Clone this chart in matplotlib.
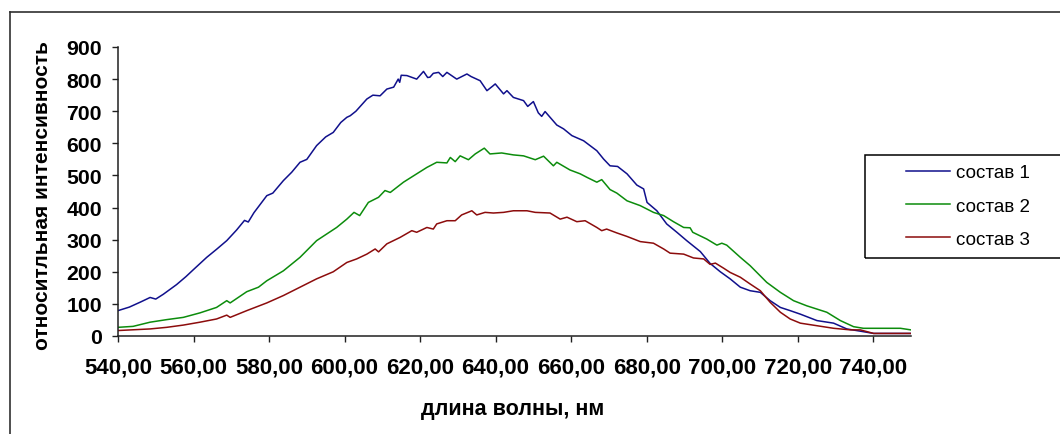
import matplotlib.pyplot as plt
from matplotlib.lines import Line2D
from matplotlib.patches import Rectangle

plt.rcParams['font.family'] = ['Liberation Sans', 'DejaVu Sans']

# spectra: wavelength (nm) and relative intensity for each composition
wl1 = [540, 543, 546, 548.5, 550, 552, 555.5, 558, 560, 563.5, 566.1, 568.8, 571.4,
       573.5, 574.5, 576, 579.4, 581, 583.8, 586, 588.2, 590, 592.6, 595, 597, 599,
       600.6, 601.5, 603, 605.9, 607.5, 609.4, 611.2, 613, 614.2, 614.6, 615, 616.5,
       619.1, 620.9, 622, 622.6, 623.5, 624.9, 626, 627.1, 629.7, 632.4, 633.5,
       635.9, 637.7, 639.2, 639.9, 642.1, 643, 644.7, 647.4, 648.5, 650, 651.3,
       652.2, 653.1, 656.2, 658, 660.2, 663.3, 666.8, 668.6, 670.3, 672.3, 674.8,
       677.4, 679.2, 680.1, 682.7, 685.3, 688, 690.6, 694.2, 696.8, 699.5, 702.1,
       704.8, 707.4, 710.1, 712.7, 715.4, 718, 720.7, 725.1, 729.5, 733, 736.6,
       740.1, 750]
int1 = [79, 90, 106, 120, 115, 130, 160, 185, 207, 245, 270, 297, 330,
        360, 355, 384, 437, 445, 484, 510, 541, 550, 593, 620, 634, 665,
        681, 686, 700, 738, 750, 748, 769, 775, 800, 790, 812, 811,
        800, 824, 805, 806, 818, 821, 808, 821, 800, 816, 808,
        795, 764, 778, 785, 754, 764, 743, 733, 715, 730, 695,
        684, 699, 657, 645, 624, 608, 577, 551, 530, 528, 505,
        470, 458, 416, 390, 349, 323, 297, 263, 226, 200, 178,
        152, 141, 136, 110, 89, 79, 68, 48, 40, 22, 15,
        8, 8]

wl2 = [540, 544, 548.5, 552.9, 557.3, 561.7, 566.1, 568.8, 569.7, 574.1, 577.2,
       579.4, 583.8, 588.2, 592.6, 597.9, 600.6, 602.5, 604, 606.3, 609, 610.7,
       612.1, 615.6, 619.1, 621.8, 624.4, 627.1, 628, 629.3, 630.6, 632.8, 634.6,
       637, 638.5, 641.6, 644.7, 647.4, 650.5, 652.7, 655.3, 656.2, 659.7, 662.4,
       664.2, 666.8, 668.1, 670.3, 672.1, 674.8, 678.3, 681.8, 684.5, 687.1, 689.8,
       691.5, 692.2, 695.9, 698.6, 699.9, 701.2, 704.8, 707.4, 711.8, 715.4, 718.9,
       722.4, 727.7, 731.3, 734.8, 737.4, 747.2, 750]
int2 = [27, 30, 43, 51, 58, 72, 89, 110, 103, 138, 152,
        172, 203, 245, 297, 338, 364, 385, 375, 416, 432, 453,
        447, 479, 505, 525, 541, 539, 556, 543, 561, 549, 567,
        585, 567, 570, 564, 561, 549, 560, 530, 541, 517, 505,
        494, 479, 487, 456, 445, 421, 406, 385, 375, 356, 338,
        337, 323, 302, 283, 289, 283, 245, 219, 167, 136, 110,
        94, 74, 48, 29, 24, 24, 19]

wl3 = [540, 548.5, 552.9, 557.3, 561.7, 566.1, 568.8, 569.7, 574.1, 579.4, 583.8,
       588.2, 592.6, 597, 600.6, 603.2, 605.9, 608.1, 609, 611.2, 614.7, 617.8,
       619.1, 621.8, 623.5, 624.4, 627.1, 629.3, 631, 633.7, 635, 637.2, 639.4,
       642.1, 644.7, 648.3, 650.5, 654.4, 657.1, 658.9, 661.5, 663.7, 666.8, 668.1,
       669.4, 672.1, 674.8, 678.3, 681.8, 684.5, 686.2, 689.8, 692.4, 695.1, 696.8,
       698.2, 700.4, 702.1, 704.8, 707.4, 710.1, 712.7, 715.4, 718, 720.7, 725.1,
       729.5, 734, 736.6, 740.1, 750]
int3 = [17, 22, 27, 34, 43, 53, 65, 58, 79, 103, 126,
        152, 178, 200, 229, 240, 255, 271, 262, 287, 307, 328,
        323, 338, 333, 349, 359, 359, 377, 390, 377, 385, 383,
        385, 390, 390, 385, 383, 364, 370, 356, 359, 338, 328,
        333, 321, 310, 294, 289, 271, 258, 255, 243, 240, 223,
        227, 211, 198, 183, 162, 141, 105, 74, 53, 40, 32,
        24, 19, 19, 8, 8]

names = ['состав 1', 'состав 2', 'состав 3']
colors = ['#10108c', '#0c8c0c', '#8c0c0c']

xticks = [540, 560, 580, 600, 620, 640, 660, 680, 700, 720, 740]
xtick_labels = ['540,00', '560,00', '580,00', '600,00', '620,00', '640,00',
                '660,00', '680,00', '700,00', '720,00', '740,00']
yticks = [0, 100, 200, 300, 400, 500, 600, 700, 800, 900]

fig = plt.figure(figsize=(10.6, 4.35), dpi=100)
W, H = 1060.0, 435.0
ax = fig.add_axes([118 / W, 1 - 337 / H, 793 / W, 289 / H])

for wl, it, name, c in zip([wl1, wl2, wl3], [int1, int2, int3], names, colors):
    ax.plot(wl, it, color=c, lw=1.1, label=name)

ax.set_xlim(540, 750)
ax.set_ylim(0, 900)
ax.set_xticks(xticks)
ax.set_xticklabels(xtick_labels)
ax.set_yticks(yticks)

for side in ['top', 'right']:
    ax.spines[side].set_visible(False)
for side in ['left', 'bottom']:
    ax.spines[side].set_color('#202020')
    ax.spines[side].set_linewidth(1.1)
ax.tick_params(axis='both', direction='out', length=4.5, width=1.0, color='#202020')
ax.tick_params(axis='x', pad=10.5)
ax.tick_params(axis='y', pad=7)
for lab in ax.get_xticklabels():
    lab.set_fontsize(16)
    lab.set_fontweight('bold')
for lab in ax.get_yticklabels():
    lab.set_fontsize(15.3)
    lab.set_fontweight('bold')

ax.set_ylabel('относитльная интенсивность', fontsize=15, fontweight='bold')
ax.yaxis.set_label_coords(-0.083, 0.49)
ax.set_xlabel('длина волны, нм', fontsize=15.5, fontweight='bold')
ax.xaxis.set_label_coords(0.498, -0.215)

# outer chart border (top and left edges fall inside the image)
fig.add_artist(Line2D([10 / W, 10 / W], [0, 1 - 13 / H], color='#303030', lw=1.2))
fig.add_artist(Line2D([10 / W, 1], [1 - 13 / H, 1 - 13 / H], color='#303030', lw=1.2))

# legend box
fig.add_artist(Rectangle((865 / W, 1 - 259 / H), 0.2, 103 / H, fill=False,
                         edgecolor='black', lw=1.1))
ax.legend(loc='center left', bbox_to_anchor=(906 / W, 1 - 207 / H),
          bbox_transform=fig.transFigure, frameon=False, fontsize=13.5,
          handlelength=2.35, handletextpad=0.32, labelspacing=0.86,
          borderpad=0, borderaxespad=0)

fig.savefig('out.png', dpi=100)
